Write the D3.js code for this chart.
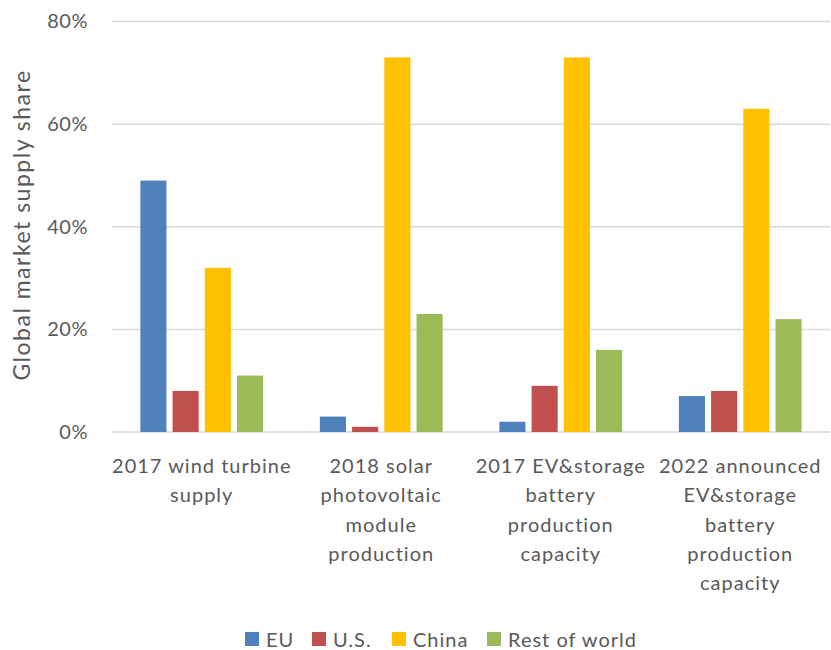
<!DOCTYPE html>
<html>
<head>
<meta charset="utf-8">
<script src="https://cdn.jsdelivr.net/npm/d3@7"></script>
<style>
  body { margin: 0; background: #fff; }
  svg text { font-family: Lato, "Open Sans", sans-serif; fill: #595959; }
</style>
</head>
<body>
<div id="chart"></div>
<script>
// data
const categories = [
    ["2017 wind turbine", "supply"],
    ["2018 solar", "photovoltaic", "module", "production"],
    ["2017 EV&storage", "battery", "production", "capacity"],
    ["2022 announced", "EV&storage", "battery", "production", "capacity"]
];
const seriesNames = ["EU", "U.S.", "China", "Rest of world"];
const seriesColors = ["#4F81BD", "#C0504D", "#FFC000", "#9BBB59"];
const euValues = [49, 3, 2, 7];
const usValues = [8, 1, 9, 8];
const chinaValues = [32, 73, 73, 63];
const restValues = [11, 23, 16, 22];
const yTicks = [0, 20, 40, 60, 80];

const values = [euValues, usValues, chinaValues, restValues];

function drawChart() {
    const width = 831;
    const height = 650;
    const margin = { top: 21.5, right: 1, bottom: 218, left: 112 };

    const usableArea = {
        top: margin.top,
        right: width - margin.right,
        bottom: height - margin.bottom,
        left: margin.left,
        width: width - margin.left - margin.right,
        height: height - margin.top - margin.bottom,
    };

    const svg = d3.select("#chart")
        .append("svg")
        .attr("width", width)
        .attr("height", height);

    const catKeys = categories.map((d, i) => i);

    const x0 = d3.scaleBand()
        .domain(catKeys)
        .range([usableArea.left, usableArea.right])
        .padding(0);

    const bw = x0.bandwidth();
    const x1 = d3.scaleBand()
        .domain(seriesNames)
        .range([bw * 0.158, bw * 0.842])
        .paddingInner(0.19);

    const yScale = d3.scaleLinear()
        .domain([0, 80])
        .range([usableArea.bottom, usableArea.top]);

    // gridlines
    svg.append("g")
        .attr("class", "gridlines")
        .selectAll("line")
        .data(yTicks)
        .join("line")
        .attr("x1", usableArea.left)
        .attr("x2", usableArea.right)
        .attr("y1", d => yScale(d))
        .attr("y2", d => yScale(d))
        .attr("stroke", "#D9D9D9")
        .attr("stroke-width", 1.5);

    // y axis labels
    const yAxis = d3.axisLeft(yScale)
        .tickValues(yTicks)
        .tickFormat(d => d + "%")
        .tickSize(0)
        .tickPadding(24);

    const yg = svg.append("g")
        .attr("transform", `translate(${usableArea.left}, 0)`)
        .call(yAxis);
    yg.select(".domain").remove();
    yg.selectAll("text")
        .style("font-size", "20px")
        .style("letter-spacing", "0.5px")
        .style("font-family", "Lato, sans-serif")
        .attr("fill", "#595959");

    // bars
    const groups = svg.append("g")
        .attr("class", "bars")
        .selectAll("g")
        .data(seriesNames)
        .join("g")
        .attr("fill", (d, i) => seriesColors[i]);

    groups.selectAll("rect")
        .data((s, si) => values[si].map((v, ci) => ({ s, v, ci })))
        .join("rect")
        .attr("x", d => x0(d.ci) + x1(d.s))
        .attr("width", x1.bandwidth())
        .attr("y", d => yScale(d.v))
        .attr("height", d => yScale(0) - yScale(d.v));

    // category labels
    const catLabels = svg.append("g")
        .selectAll("text")
        .data(categories)
        .join("text")
        .attr("text-anchor", "middle")
        .attr("x", (d, i) => x0(i) + bw / 2)
        .attr("y", 473)
        .style("font-size", "20px")
        .style("letter-spacing", "1px");

    catLabels.selectAll("tspan")
        .data(d => d)
        .join("tspan")
        .attr("x", function () { return d3.select(this.parentNode).attr("x"); })
        .attr("dy", (d, i) => i === 0 ? 0 : 29.3)
        .text(d => d);

    // y axis title
    svg.append("text")
        .attr("transform", `translate(30, 225) rotate(-90)`)
        .attr("text-anchor", "middle")
        .style("font-size", "23px")
        .style("letter-spacing", "1.5px")
        .text("Global market supply share");

    // legend
    const legend = svg.append("g")
        .attr("class", "legend")
        .attr("transform", `translate(0, 639)`);

    const legendX = [245, 312, 392, 487];
    const items = legend.selectAll("g")
        .data(seriesNames)
        .join("g")
        .attr("transform", (d, i) => `translate(${legendX[i]}, 0)`);

    items.append("rect")
        .attr("x", 0)
        .attr("y", -7)
        .attr("width", 14)
        .attr("height", 14)
        .attr("fill", (d, i) => seriesColors[i]);

    items.append("text")
        .attr("x", 21)
        .attr("y", 7.5)
        .style("font-size", "20px")
        .style("letter-spacing", "1px")
        .text(d => d);
}

drawChart();
</script>
</body>
</html>
